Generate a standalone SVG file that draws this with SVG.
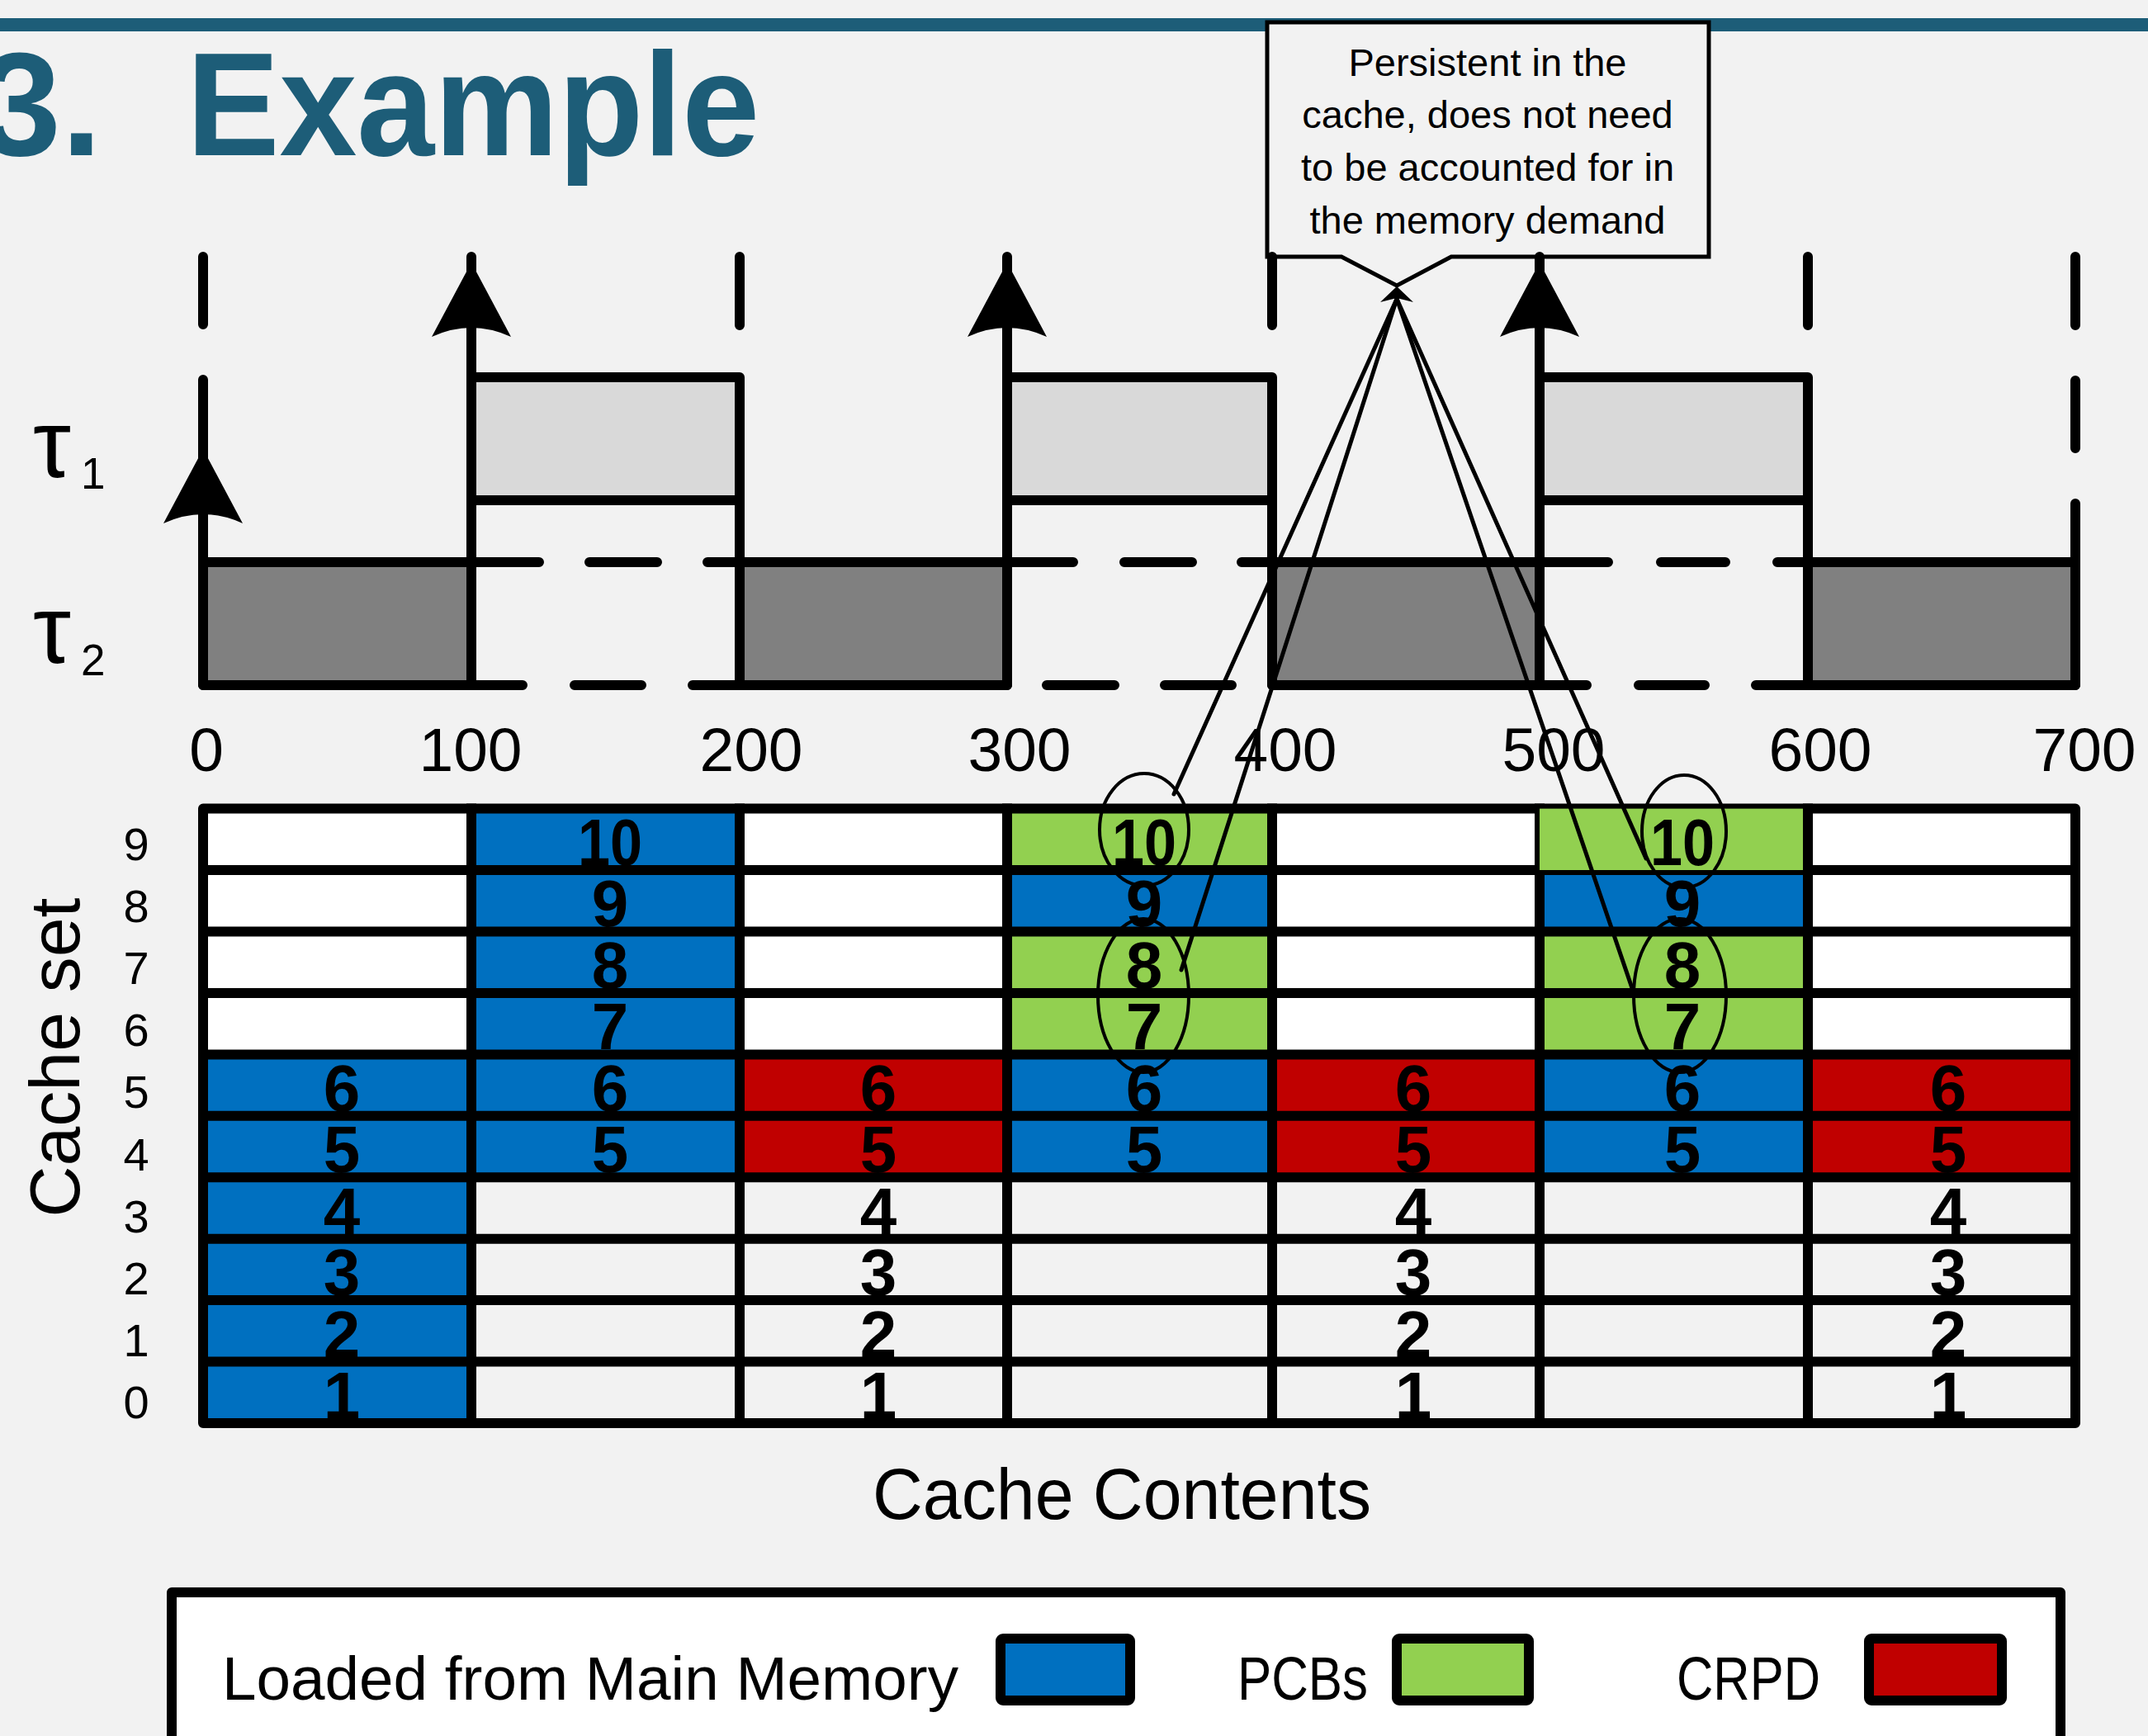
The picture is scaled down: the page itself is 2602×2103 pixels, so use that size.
<svg xmlns="http://www.w3.org/2000/svg" width="2602" height="2103" viewBox="0 0 2602 2103">
<style>
.ln{stroke:#000;stroke-width:12;stroke-linecap:round;fill:none}
.box{stroke:#000;stroke-width:12;stroke-linejoin:round}
.t1{fill:#D9D9D9}
.t2{fill:#808080}
.ax{font-family:"Liberation Sans",Arial,sans-serif;font-size:75px;text-anchor:middle;fill:#000}
.rl{font-family:"Liberation Sans",Arial,sans-serif;font-size:56px;text-anchor:middle;fill:#000}
.num{font-family:"Liberation Sans",Arial,sans-serif;font-size:80px;font-weight:bold;text-anchor:middle;fill:#000}
.gl{stroke:#000;stroke-width:12;stroke-linecap:square;fill:none}
.bl{fill:#0070C0}.gr{fill:#92D050}.rd{fill:#C00000}.wh{fill:#FFFFFF}
.con{stroke:#000;stroke-width:5;fill:none;stroke-linecap:round}
.ell{stroke:#000;stroke-width:4;fill:none}
.lg{font-family:"Liberation Sans",Arial,sans-serif;font-size:75px;fill:#000}
</style>
<defs>
<path id="arr" d="M0,0 L48,90 Q0,68 -48,90 Z" fill="#000"/>
</defs>
<rect x="0" y="0" width="2602" height="2103" fill="#F2F2F2"/>
<rect x="0" y="22" width="2602" height="16" fill="#1D5D78"/>
<g id="title" font-family="'Liberation Sans',Arial,sans-serif" font-weight="bold" font-size="178" fill="#1D5D78">
<text x="-25" y="188">3.</text>
<text x="226" y="188" textLength="694" lengthAdjust="spacingAndGlyphs">Example</text>
</g>

<g id="callout">
<path d="M1535,27 H2070 V311 H1758 L1692,346 L1625,311 H1535 Z" fill="#F2F2F2" stroke="#000" stroke-width="5" stroke-linejoin="miter"/>
<g font-family="'Liberation Sans',Arial,sans-serif" font-size="47" text-anchor="middle" fill="#000">
<text x="1802" y="92">Persistent in the</text>
<text x="1802" y="155">cache, does not need</text>
<text x="1802" y="219">to be accounted for in</text>
<text x="1802" y="283">the memory demand</text>
</g>
</g>

<g id="task-labels" font-family="'Liberation Sans','DejaVu Sans',sans-serif" fill="#000">
<text x="40" y="578" font-size="116">τ</text>
<text x="98" y="592" font-size="53">1</text>
<text x="40" y="803" font-size="116">τ</text>
<text x="98" y="818" font-size="53">2</text>
</g>

<g id="timeline">
<rect class="box t1" x="571" y="457" width="325" height="149"/>
<rect class="box t1" x="1220" y="457" width="321" height="149"/>
<rect class="box t1" x="1865" y="457" width="325" height="149"/>
<rect class="box t2" x="246" y="681" width="325" height="149"/>
<rect class="box t2" x="896" y="681" width="324" height="149"/>
<rect class="box t2" x="1541" y="681" width="324" height="149"/>
<rect class="box t2" x="2190" y="681" width="324" height="149"/>
<path class="ln" d="M571,681H653 M714,681H796 M857,681H896 M1220,681H1300 M1362,681H1444 M1504,681H1541 M1865,681H1948 M2012,681H2090 M2153,681H2190"/>
<path class="ln" d="M571,830H633 M696,830H777 M839,830H896 M1268,830H1350 M1411,830H1492 M1865,830H1922 M1985,830H2065 M2127,830H2190"/>
<path class="ln" d="M246,311V393 M246,460V830"/>
<path class="ln" d="M571,311V830"/>
<path class="ln" d="M896,311V394 M896,461V830"/>
<path class="ln" d="M1220,311V830"/>
<path class="ln" d="M1541,311V394 M1541,461V830"/>
<path class="ln" d="M1865,311V830"/>
<path class="ln" d="M2190,311V394 M2190,461V830"/>
<path class="ln" d="M2514,311V394 M2514,461V543 M2514,610V830"/>
<use href="#arr" x="571" y="318"/>
<use href="#arr" x="1220" y="318"/>
<use href="#arr" x="1865" y="318"/>
<use href="#arr" x="246" y="544"/>
<text class="ax" x="250" y="934">0</text>
<text class="ax" x="570" y="934">100</text>
<text class="ax" x="910" y="934">200</text>
<text class="ax" x="1235" y="934">300</text>
<text class="ax" x="1557" y="934">400</text>
<text class="ax" x="1882" y="934">500</text>
<text class="ax" x="2205" y="934">600</text>
<text class="ax" x="2525" y="934">700</text>
</g>

<g id="cache-axis">
<text transform="translate(96,1281) rotate(-90)" font-family="'Liberation Sans',Arial,sans-serif" font-size="86" text-anchor="middle" textLength="387" lengthAdjust="spacingAndGlyphs">Cache set</text>
<text class="rl" x="165" y="1042">9</text>
<text class="rl" x="165" y="1117">8</text>
<text class="rl" x="165" y="1192">7</text>
<text class="rl" x="165" y="1267">6</text>
<text class="rl" x="165" y="1342">5</text>
<text class="rl" x="165" y="1418">4</text>
<text class="rl" x="165" y="1493">3</text>
<text class="rl" x="165" y="1568">2</text>
<text class="rl" x="165" y="1643">1</text>
<text class="rl" x="165" y="1718">0</text>
</g>

<g id="cache-grid">
<rect class="wh" x="246" y="979.6" width="325" height="297.8"/>
<rect class="bl" x="246" y="1277.4" width="325" height="446.6"/>
<rect class="bl" x="571" y="979.6" width="325" height="446.6"/>
<rect class="wh" x="896" y="979.6" width="324" height="297.8"/>
<rect class="rd" x="896" y="1277.4" width="324" height="148.8"/>
<rect class="gr" x="1220" y="979.6" width="321" height="74.4"/>
<rect class="bl" x="1220" y="1054" width="321" height="74.5"/>
<rect class="gr" x="1220" y="1128.5" width="321" height="148.9"/>
<rect class="bl" x="1220" y="1277.4" width="321" height="148.8"/>
<rect class="wh" x="1541" y="979.6" width="324" height="297.8"/>
<rect class="rd" x="1541" y="1277.4" width="324" height="148.8"/>
<rect class="bl" x="1865" y="1054" width="325" height="74.5"/>
<rect class="gr" x="1865" y="1128.5" width="325" height="148.9"/>
<rect class="bl" x="1865" y="1277.4" width="325" height="148.8"/>
<rect class="wh" x="2190" y="979.6" width="324" height="297.8"/>
<rect class="rd" x="2190" y="1277.4" width="324" height="148.8"/>
<path class="gl" d="M246,1054H2514 M246,1128.5H2514 M246,1202.9H2514 M246,1277.4H2514 M246,1351.8H2514 M246,1426.2H2514 M246,1500.7H2514 M246,1575.1H2514 M246,1649.6H2514"/>
<path class="gl" d="M571,979.6V1724 M896,979.6V1724 M1220,979.6V1724 M1541,979.6V1724 M1865,979.6V1724 M2190,979.6V1724"/>
<rect x="246" y="979.6" width="2268" height="744.4" fill="none" stroke="#000" stroke-width="12" stroke-linejoin="round"/>
<rect class="gr" x="1865" y="979.6" width="319" height="74.4"/>
<g class="num">
<text x="414" y="1346">6</text><text x="414" y="1420">5</text><text x="414" y="1495">4</text><text x="414" y="1569">3</text><text x="414" y="1644">2</text><text x="414" y="1718">1</text>
<text x="739" y="1048" textLength="78" lengthAdjust="spacingAndGlyphs">10</text><text x="739" y="1122">9</text><text x="739" y="1197">8</text><text x="739" y="1271">7</text><text x="739" y="1346">6</text><text x="739" y="1420">5</text>
<text x="1064" y="1346">6</text><text x="1064" y="1420">5</text><text x="1064" y="1495">4</text><text x="1064" y="1569">3</text><text x="1064" y="1644">2</text><text x="1064" y="1718">1</text>
<text x="1386" y="1048" textLength="78" lengthAdjust="spacingAndGlyphs">10</text><text x="1386" y="1122">9</text><text x="1386" y="1197">8</text><text x="1386" y="1271">7</text><text x="1386" y="1346">6</text><text x="1386" y="1420">5</text>
<text x="1712" y="1346">6</text><text x="1712" y="1420">5</text><text x="1712" y="1495">4</text><text x="1712" y="1569">3</text><text x="1712" y="1644">2</text><text x="1712" y="1718">1</text>
<text x="2038" y="1048" textLength="78" lengthAdjust="spacingAndGlyphs">10</text><text x="2038" y="1122">9</text><text x="2038" y="1197">8</text><text x="2038" y="1271">7</text><text x="2038" y="1346">6</text><text x="2038" y="1420">5</text>
<text x="2360" y="1346">6</text><text x="2360" y="1420">5</text><text x="2360" y="1495">4</text><text x="2360" y="1569">3</text><text x="2360" y="1644">2</text><text x="2360" y="1718">1</text>
</g>
</g>

<g id="pcb-highlights">
<ellipse class="ell" cx="1386" cy="1005" rx="54" ry="68"/>
<ellipse class="ell" cx="1385" cy="1206" rx="55" ry="93"/>
<ellipse class="ell" cx="2040" cy="1007" rx="51" ry="68"/>
<ellipse class="ell" cx="2035" cy="1206" rx="56" ry="93"/>
</g>

<text id="x-title" x="1359" y="1840" font-family="'Liberation Sans',Arial,sans-serif" font-size="88" text-anchor="middle" textLength="604" lengthAdjust="spacingAndGlyphs">Cache Contents</text>

<g id="connectors">
<path class="con" d="M1692,362 L1422,962"/>
<path class="con" d="M1692,362 L1431,1175"/>
<path class="con" d="M1692,362 L1977,1197"/>
<path class="con" d="M1692,362 L1994,1040"/>
<path d="M1692,347 L1712,366 L1692,361 L1672,366 Z" fill="#000"/>
</g>

<g id="legend">
<rect x="208" y="1929" width="2288" height="300" fill="#FFFFFF" stroke="#000" stroke-width="12" stroke-linejoin="round"/>
<text class="lg" x="269" y="2059" textLength="892" lengthAdjust="spacingAndGlyphs">Loaded from Main Memory</text>
<rect class="bl" x="1212" y="1985" width="157" height="75" stroke="#000" stroke-width="12" rx="3"/>
<text class="lg" x="1499" y="2059" textLength="158" lengthAdjust="spacingAndGlyphs">PCBs</text>
<rect class="gr" x="1692" y="1985" width="160" height="75" stroke="#000" stroke-width="12" rx="3"/>
<text class="lg" x="2031" y="2059" textLength="174" lengthAdjust="spacingAndGlyphs">CRPD</text>
<rect class="rd" x="2264" y="1985" width="161" height="75" stroke="#000" stroke-width="12" rx="3"/>
</g>
</svg>
